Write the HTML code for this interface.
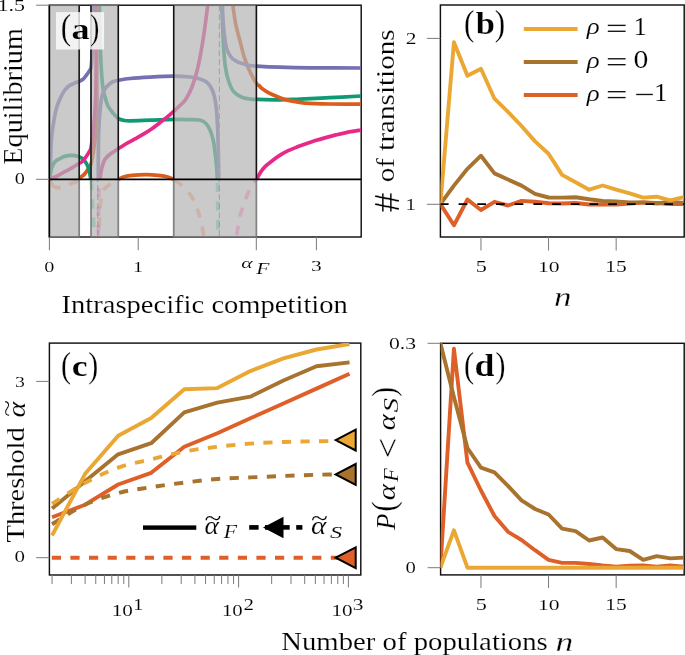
<!DOCTYPE html>
<html><head><meta charset="utf-8"><style>
html,body{margin:0;padding:0;background:#fff;}
svg{display:block;}
text{font-family:"Liberation Serif",serif;}
</style></head><body>
<svg width="685" height="655" viewBox="0 0 685 655">
<rect width="685" height="655" fill="#fff"/>
<defs><clipPath id="cpa"><rect x="49.4" y="5.2" width="311.8" height="231.8"/></clipPath></defs><rect x="49.4" y="5.2" width="311.8" height="231.8" fill="none" stroke="#111" stroke-width="1.45"/><g clip-path="url(#cpa)"><path d="M99.30,3.00 C99.38,7.50 99.55,20.50 99.80,30.00 C100.05,39.50 100.32,50.62 100.80,60.00 C101.28,69.38 102.00,80.13 102.70,86.30 C103.40,92.47 104.12,93.72 105.00,97.00 C105.88,100.28 106.67,103.33 108.00,106.00 C109.33,108.67 111.28,110.92 113.00,113.00 C114.72,115.08 116.47,117.27 118.30,118.50 C120.13,119.73 122.05,120.02 124.00,120.40 C125.95,120.78 125.67,120.83 130.00,120.80 C134.33,120.77 142.72,120.43 150.00,120.20 C157.28,119.97 167.03,119.50 173.70,119.40 C180.37,119.30 185.70,119.50 190.00,119.60 C194.30,119.70 196.92,119.43 199.50,120.00 C202.08,120.57 203.75,121.33 205.50,123.00 C207.25,124.67 208.72,127.17 210.00,130.00 C211.28,132.83 212.30,135.83 213.20,140.00 C214.10,144.17 214.80,150.00 215.40,155.00 C216.00,160.00 216.47,165.95 216.80,170.00 C217.13,174.05 217.30,177.75 217.40,179.30" fill="none" stroke="#0e9b74" stroke-width="3.7"/><path d="M221.80,3.00 C221.93,6.67 222.27,17.17 222.60,25.00 C222.93,32.83 223.33,42.98 223.80,50.00 C224.27,57.02 224.63,62.02 225.40,67.10 C226.17,72.18 227.05,76.45 228.40,80.50 C229.75,84.55 231.27,88.60 233.50,91.40 C235.73,94.20 239.02,96.03 241.80,97.30 C244.58,98.57 247.77,98.65 250.20,99.00 C252.63,99.35 251.43,99.25 256.40,99.40 C261.37,99.55 272.73,99.95 280.00,99.90 C287.27,99.85 291.67,99.47 300.00,99.10 C308.33,98.73 319.80,98.22 330.00,97.70 C340.20,97.18 356.00,96.28 361.20,96.00" fill="none" stroke="#0e9b74" stroke-width="3.7"/><path d="M79.20,179.30 C79.42,178.97 79.65,178.12 80.50,177.30 C81.35,176.48 83.10,175.65 84.30,174.40 C85.50,173.15 86.77,171.22 87.70,169.80 C88.63,168.38 89.32,166.95 89.90,165.90 C90.48,164.85 90.77,164.98 91.20,163.50 C91.63,162.02 92.07,159.42 92.50,157.00 C92.93,154.58 93.33,152.33 93.80,149.00 C94.27,145.67 94.87,141.50 95.30,137.00 C95.73,132.50 96.15,127.33 96.40,122.00 C96.65,116.67 96.75,112.00 96.80,105.00 C96.85,98.00 96.75,90.83 96.70,80.00 C96.65,69.17 96.55,52.83 96.50,40.00 C96.45,27.17 96.42,9.17 96.40,3.00" fill="none" stroke="#dc5c1c" stroke-width="3.7"/><path d="M118.30,179.30 C119.42,178.82 122.72,177.07 125.00,176.40 C127.28,175.73 128.50,175.58 132.00,175.30 C135.50,175.02 141.67,174.70 146.00,174.70 C150.33,174.70 154.67,175.00 158.00,175.30 C161.33,175.60 163.38,175.83 166.00,176.50 C168.62,177.17 172.42,178.83 173.70,179.30" fill="none" stroke="#dc5c1c" stroke-width="3.7"/><path d="M232.60,3.00 C232.80,4.50 233.25,8.30 233.80,12.00 C234.35,15.70 234.83,20.22 235.90,25.20 C236.97,30.18 238.73,36.32 240.20,41.90 C241.67,47.48 243.03,53.67 244.70,58.70 C246.37,63.73 248.25,67.97 250.20,72.10 C252.15,76.23 254.90,81.23 256.40,83.50 C257.90,85.77 258.27,84.87 259.20,85.70 C260.13,86.53 260.48,87.35 262.00,88.50 C263.52,89.65 265.72,91.23 268.30,92.60 C270.88,93.97 274.45,95.48 277.50,96.70 C280.55,97.92 283.55,99.07 286.60,99.90 C289.65,100.73 292.73,101.17 295.80,101.70 C298.87,102.23 299.30,102.72 305.00,103.10 C310.70,103.48 320.63,103.82 330.00,104.00 C339.37,104.18 356.00,104.17 361.20,104.20" fill="none" stroke="#dc5c1c" stroke-width="3.7"/><path d="M49.70,179.30 C49.80,178.50 50.13,178.48 50.30,174.50 C50.47,170.52 50.47,161.75 50.70,155.40 C50.93,149.05 51.07,142.77 51.70,136.40 C52.33,130.03 53.62,122.18 54.50,117.20 C55.38,112.22 56.03,109.67 57.00,106.50 C57.97,103.33 59.17,100.70 60.30,98.20 C61.43,95.70 62.53,93.42 63.80,91.50 C65.07,89.58 66.27,88.02 67.90,86.70 C69.53,85.38 71.85,84.43 73.60,83.60 C75.35,82.77 76.80,82.45 78.40,81.70 C80.00,80.95 81.77,80.33 83.20,79.10 C84.63,77.87 85.73,76.05 87.00,74.30 C88.27,72.55 90.05,70.32 90.80,68.60 C91.55,66.88 91.32,65.77 91.50,64.00 C91.68,62.23 91.77,61.17 91.90,58.00 C92.03,54.83 92.17,49.67 92.30,45.00 C92.43,40.33 92.57,35.00 92.70,30.00 C92.83,25.00 93.00,19.50 93.10,15.00 C93.20,10.50 93.27,5.00 93.30,3.00" fill="none" stroke="#7570b3" stroke-width="3.7"/><path d="M98.30,179.30 C98.30,176.08 98.27,166.55 98.30,160.00 C98.33,153.45 98.38,145.83 98.50,140.00 C98.62,134.17 98.73,130.00 99.00,125.00 C99.27,120.00 99.67,114.50 100.10,110.00 C100.53,105.50 101.03,101.08 101.60,98.00 C102.17,94.92 102.77,93.25 103.50,91.50 C104.23,89.75 104.92,88.83 106.00,87.50 C107.08,86.17 108.67,84.53 110.00,83.50 C111.33,82.47 112.62,81.83 114.00,81.30 C115.38,80.77 115.63,80.77 118.30,80.30 C120.97,79.83 124.72,79.03 130.00,78.50 C135.28,77.97 142.72,77.48 150.00,77.10 C157.28,76.72 167.03,76.22 173.70,76.20 C180.37,76.18 185.62,76.53 190.00,77.00 C194.38,77.47 197.25,78.17 200.00,79.00 C202.75,79.83 204.67,80.58 206.50,82.00 C208.33,83.42 209.70,85.17 211.00,87.50 C212.30,89.83 213.38,92.25 214.30,96.00 C215.22,99.75 215.93,104.33 216.50,110.00 C217.07,115.67 217.38,122.50 217.70,130.00 C218.02,137.50 218.22,146.78 218.40,155.00 C218.58,163.22 218.73,175.25 218.80,179.30" fill="none" stroke="#7570b3" stroke-width="3.7"/><path d="M222.30,3.00 C222.40,5.50 222.58,12.90 222.90,18.00 C223.22,23.10 223.57,28.48 224.20,33.60 C224.83,38.72 225.43,44.65 226.70,48.70 C227.97,52.75 229.55,55.53 231.80,57.90 C234.05,60.27 237.40,61.67 240.20,62.90 C243.00,64.13 245.90,64.77 248.60,65.30 C251.30,65.83 251.17,65.78 256.40,66.10 C261.63,66.42 271.07,66.92 280.00,67.20 C288.93,67.48 296.47,67.67 310.00,67.80 C323.53,67.93 352.67,67.97 361.20,68.00" fill="none" stroke="#7570b3" stroke-width="3.7"/><path d="M49.80,179.30 C49.92,178.17 50.18,174.38 50.50,172.50 C50.82,170.62 51.20,169.45 51.70,168.00 C52.20,166.55 52.70,165.05 53.50,163.80 C54.30,162.55 55.42,161.37 56.50,160.50 C57.58,159.63 58.73,159.25 60.00,158.60 C61.27,157.95 62.77,157.10 64.10,156.60 C65.43,156.10 66.80,155.82 68.00,155.60 C69.20,155.38 70.13,155.30 71.30,155.30 C72.47,155.30 73.78,155.38 75.00,155.60 C76.22,155.82 77.33,156.10 78.60,156.60 C79.87,157.10 81.28,157.43 82.60,158.60 C83.92,159.77 85.47,161.82 86.50,163.60 C87.53,165.38 88.18,167.23 88.80,169.30 C89.42,171.37 89.88,174.33 90.20,176.00 C90.52,177.67 90.62,178.75 90.70,179.30" fill="none" stroke="#0e9b74" stroke-width="3.7"/><path d="M49.40,179.30 C50.33,178.92 53.23,177.82 55.00,177.00 C56.77,176.18 58.50,175.22 60.00,174.40 C61.50,173.58 62.58,172.87 64.00,172.10 C65.42,171.33 66.92,170.68 68.50,169.80 C70.08,168.92 71.82,167.83 73.50,166.80 C75.18,165.77 77.08,164.52 78.60,163.60 C80.12,162.68 81.18,162.70 82.60,161.30 C84.02,159.90 85.88,156.98 87.10,155.20 C88.32,153.42 89.25,151.83 89.90,150.60 C90.55,149.37 90.52,150.57 91.00,147.80 C91.48,145.03 92.18,139.57 92.80,134.00 C93.42,128.43 94.20,120.90 94.70,114.40 C95.20,107.90 95.53,104.07 95.80,95.00 C96.07,85.93 96.20,75.33 96.30,60.00 C96.40,44.67 96.38,12.50 96.40,3.00" fill="none" stroke="#e7298a" stroke-width="3.7"/><path d="M100.00,179.30 C100.07,178.75 100.20,177.38 100.40,176.00 C100.60,174.62 100.88,172.58 101.20,171.00 C101.52,169.42 101.72,168.37 102.30,166.50 C102.88,164.63 103.58,161.72 104.70,159.80 C105.82,157.88 107.55,156.30 109.00,155.00 C110.45,153.70 111.85,153.05 113.40,152.00 C114.95,150.95 116.83,149.67 118.30,148.70 C119.77,147.73 120.83,147.07 122.20,146.20 C123.57,145.33 124.38,144.72 126.50,143.50 C128.62,142.28 132.08,140.47 134.90,138.90 C137.72,137.33 140.57,135.80 143.40,134.10 C146.23,132.40 149.08,130.65 151.90,128.70 C154.72,126.75 157.48,124.58 160.30,122.40 C163.12,120.22 166.57,117.45 168.80,115.60 C171.03,113.75 171.83,112.98 173.70,111.30 C175.57,109.62 177.95,107.55 180.00,105.50 C182.05,103.45 184.00,102.08 186.00,99.00 C188.00,95.92 190.17,91.67 192.00,87.00 C193.83,82.33 195.50,76.83 197.00,71.00 C198.50,65.17 199.75,58.83 201.00,52.00 C202.25,45.17 203.33,38.17 204.50,30.00 C205.67,21.83 207.42,7.50 208.00,3.00" fill="none" stroke="#e7298a" stroke-width="3.7"/><path d="M256.40,179.30 C256.60,178.97 256.75,178.70 257.60,177.30 C258.45,175.90 260.22,172.73 261.50,170.90 C262.78,169.07 263.40,168.08 265.30,166.30 C267.20,164.52 270.37,162.10 272.90,160.20 C275.43,158.30 277.95,156.48 280.50,154.90 C283.05,153.32 285.70,151.92 288.20,150.70 C290.70,149.48 292.67,148.70 295.50,147.60 C298.33,146.50 301.88,145.27 305.20,144.10 C308.52,142.93 311.98,141.68 315.40,140.60 C318.82,139.52 322.28,138.55 325.70,137.60 C329.12,136.65 332.50,135.73 335.90,134.90 C339.30,134.07 341.88,133.42 346.10,132.60 C350.32,131.78 358.68,130.43 361.20,130.00" fill="none" stroke="#e7298a" stroke-width="3.7"/><line x1="97.8" y1="5.2" x2="97.8" y2="237.0" stroke="#888" stroke-width="1.2" stroke-dasharray="6 3"/><line x1="219.4" y1="5.2" x2="219.4" y2="237.0" stroke="#888" stroke-width="1.2" stroke-dasharray="6 3"/></g><rect x="49.4" y="5.2" width="29.800000000000004" height="231.8" fill="#b4b4b4" fill-opacity="0.70" stroke="#6e6e6e" stroke-width="1.7" stroke-opacity="0.85"/><rect x="91.0" y="5.2" width="27.299999999999997" height="231.8" fill="#b4b4b4" fill-opacity="0.70" stroke="#6e6e6e" stroke-width="1.7" stroke-opacity="0.85"/><rect x="173.7" y="5.2" width="82.69999999999999" height="231.8" fill="#b4b4b4" fill-opacity="0.70" stroke="#6e6e6e" stroke-width="1.7" stroke-opacity="0.85"/><g clip-path="url(#cpa)"><path d="M90.60,179.30 C90.78,181.08 91.37,185.72 91.70,190.00 C92.03,194.28 92.30,200.00 92.60,205.00 C92.90,210.00 93.20,214.17 93.50,220.00 C93.80,225.83 94.25,236.67 94.40,240.00" fill="none" stroke="#0e9b74" stroke-width="3.7" stroke-opacity="0.2" stroke-dasharray="9.5 9" stroke-dashoffset="17.1"/><path d="M217.40,179.30 C217.45,181.92 217.62,184.88 217.70,195.00 C217.78,205.12 217.87,232.50 217.90,240.00" fill="none" stroke="#0e9b74" stroke-width="3.7" stroke-opacity="0.2" stroke-dasharray="9.5 9" stroke-dashoffset="15"/><path d="M49.40,179.30 C49.55,179.58 49.95,180.30 50.30,181.00 C50.65,181.70 51.05,182.72 51.50,183.50 C51.95,184.28 52.42,185.12 53.00,185.70 C53.58,186.28 54.17,186.68 55.00,187.00 C55.83,187.32 56.87,187.57 58.00,187.60 C59.13,187.63 60.47,187.53 61.80,187.20 C63.13,186.87 64.60,186.18 66.00,185.60 C67.40,185.02 68.87,184.22 70.20,183.70 C71.53,183.18 72.75,182.92 74.00,182.50 C75.25,182.08 76.83,181.73 77.70,181.20 C78.57,180.67 78.95,179.62 79.20,179.30" fill="none" stroke="#dc5c1c" stroke-width="3.7" stroke-opacity="0.2" stroke-dasharray="15.5 8.5 9.5 9" stroke-dashoffset="0"/><path d="M118.30,179.30 C117.58,179.63 115.37,180.53 114.00,181.30 C112.63,182.07 111.35,182.98 110.10,183.90 C108.85,184.82 107.65,185.73 106.50,186.80 C105.35,187.87 104.02,188.93 103.20,190.30 C102.38,191.67 101.97,193.38 101.60,195.00 C101.23,196.62 101.27,197.75 101.00,200.00 C100.73,202.25 100.27,205.00 100.00,208.50 C99.73,212.00 99.58,217.42 99.40,221.00 C99.22,224.58 99.02,226.83 98.90,230.00 C98.78,233.17 98.73,238.33 98.70,240.00" fill="none" stroke="#dc5c1c" stroke-width="3.7" stroke-opacity="0.2" stroke-dasharray="9.5 9" stroke-dashoffset="9.5"/><path d="M173.70,179.30 C174.42,179.82 176.28,181.03 178.00,182.40 C179.72,183.77 181.92,185.40 184.00,187.50 C186.08,189.60 188.67,192.42 190.50,195.00 C192.33,197.58 193.70,200.17 195.00,203.00 C196.30,205.83 197.33,209.00 198.30,212.00 C199.27,215.00 200.07,218.08 200.80,221.00 C201.53,223.92 202.17,226.33 202.70,229.50 C203.23,232.67 203.78,238.25 204.00,240.00" fill="none" stroke="#dc5c1c" stroke-width="3.7" stroke-opacity="0.2" stroke-dasharray="9.5 9" stroke-dashoffset="17.2"/><path d="M100.00,179.30 C99.88,179.92 99.48,181.22 99.30,183.00 C99.12,184.78 99.00,187.17 98.90,190.00 C98.80,192.83 98.77,195.83 98.70,200.00 C98.63,204.17 98.55,208.33 98.50,215.00 C98.45,221.67 98.42,235.83 98.40,240.00" fill="none" stroke="#e7298a" stroke-width="3.7" stroke-opacity="0.2" stroke-dasharray="9.5 9" stroke-dashoffset="9.5"/><path d="M256.40,179.30 C255.92,179.92 254.57,181.38 253.50,183.00 C252.43,184.62 251.25,186.50 250.00,189.00 C248.75,191.50 247.25,194.83 246.00,198.00 C244.75,201.17 243.58,204.67 242.50,208.00 C241.42,211.33 240.33,214.33 239.50,218.00 C238.67,221.67 238.08,226.33 237.50,230.00 C236.92,233.67 236.25,238.33 236.00,240.00" fill="none" stroke="#e7298a" stroke-width="3.7" stroke-opacity="0.2" stroke-dasharray="9.5 9" stroke-dashoffset="5.2"/></g><line x1="79.2" y1="5.2" x2="79.2" y2="179.3" stroke="#000" stroke-opacity="0.85" stroke-width="1.4"/><line x1="91.0" y1="5.2" x2="91.0" y2="179.3" stroke="#000" stroke-opacity="0.85" stroke-width="1.4"/><line x1="118.3" y1="5.2" x2="118.3" y2="179.3" stroke="#000" stroke-opacity="0.85" stroke-width="1.4"/><line x1="173.7" y1="5.2" x2="173.7" y2="179.3" stroke="#000" stroke-opacity="0.85" stroke-width="1.4"/><line x1="256.4" y1="5.2" x2="256.4" y2="179.3" stroke="#000" stroke-opacity="0.85" stroke-width="1.4"/><line x1="49.4" y1="179.3" x2="361.2" y2="179.3" stroke="#000" stroke-width="1.8"/><line x1="49.4" y1="5.2" x2="49.4" y2="237.0" stroke="#000" stroke-width="1.3"/><rect x="56" y="12.1" width="48.1" height="37.4" fill="#fff" fill-opacity="0.78"/><line x1="36.1" y1="5.2" x2="49.4" y2="5.2" stroke="#7a7a7a" stroke-width="1"/><line x1="36.1" y1="179.3" x2="49.4" y2="179.3" stroke="#7a7a7a" stroke-width="1"/><line x1="49.4" y1="237.0" x2="49.4" y2="250.2" stroke="#7a7a7a" stroke-width="1"/><line x1="138.2" y1="237.0" x2="138.2" y2="250.2" stroke="#7a7a7a" stroke-width="1"/><line x1="256.3" y1="237.0" x2="256.3" y2="250.2" stroke="#7a7a7a" stroke-width="1"/><line x1="316.4" y1="237.0" x2="316.4" y2="250.2" stroke="#7a7a7a" stroke-width="1"/><rect x="440.4" y="5.0" width="243.80000000000007" height="232.0" fill="none" stroke="#111" stroke-width="1.45"/><defs><clipPath id="cpb"><rect x="440.4" y="5.0" width="243.80000000000007" height="232.0"/></clipPath></defs><g clip-path="url(#cpb)"><path d="M440.40,204.00 L453.92,225.30 L467.44,199.50 L480.96,210.00 L494.48,201.80 L508.00,205.50 L521.52,200.90 L535.04,201.80 L548.56,203.20 L562.08,203.50 L575.60,203.00 L589.12,204.50 L602.64,204.50 L616.16,204.50 L629.68,203.50 L643.20,202.50 L656.72,203.00 L670.24,204.00 L683.76,204.00" fill="none" stroke="#df5f29" stroke-width="3.9" stroke-linejoin="round"/><path d="M440.40,204.00 L453.92,185.60 L467.44,168.80 L480.96,155.70 L494.48,173.40 L508.00,179.50 L521.52,185.60 L535.04,193.90 L548.56,197.50 L562.08,197.60 L575.60,197.20 L589.12,199.30 L602.64,201.00 L616.16,201.40 L629.68,202.40 L643.20,202.40 L656.72,203.50 L670.24,201.80 L683.76,202.90" fill="none" stroke="#a8732f" stroke-width="3.9" stroke-linejoin="round"/><path d="M440.40,204.00 L453.92,42.30 L467.44,75.80 L480.96,68.80 L494.48,98.70 L508.00,111.80 L521.52,126.00 L535.04,141.40 L548.56,153.70 L562.08,174.90 L575.60,182.30 L589.12,189.70 L602.64,185.50 L616.16,189.70 L629.68,193.30 L643.20,197.60 L656.72,196.70 L670.24,200.30 L683.76,197.20" fill="none" stroke="#eba733" stroke-width="3.9" stroke-linejoin="round"/><line x1="440.4" y1="204.2" x2="684.2" y2="204.2" stroke="#000" stroke-width="1.8" stroke-dasharray="8.7 10" stroke-dashoffset="0.5"/></g><line x1="523.8" y1="29.0" x2="577.6" y2="29.0" stroke="#eba733" stroke-width="3.9"/><line x1="523.8" y1="62.0" x2="577.6" y2="62.0" stroke="#a8732f" stroke-width="3.9"/><line x1="523.8" y1="95.0" x2="577.6" y2="95.0" stroke="#df5f29" stroke-width="3.9"/><line x1="426.9" y1="38.4" x2="440.4" y2="38.4" stroke="#7a7a7a" stroke-width="1"/><line x1="426.9" y1="204.3" x2="440.4" y2="204.3" stroke="#7a7a7a" stroke-width="1"/><line x1="480.96" y1="237.0" x2="480.96" y2="250.5" stroke="#7a7a7a" stroke-width="1"/><line x1="548.56" y1="237.0" x2="548.56" y2="250.5" stroke="#7a7a7a" stroke-width="1"/><line x1="616.16" y1="237.0" x2="616.16" y2="250.5" stroke="#7a7a7a" stroke-width="1"/><rect x="607.8" y="24.70" width="17.8" height="1.35" fill="#111"/><rect x="607.8" y="30.60" width="17.8" height="1.35" fill="#111"/><rect x="607.8" y="58.10" width="17.8" height="1.35" fill="#111"/><rect x="607.8" y="64.00" width="17.8" height="1.35" fill="#111"/><rect x="607.8" y="91.00" width="17.8" height="1.35" fill="#111"/><rect x="607.8" y="96.90" width="17.8" height="1.35" fill="#111"/><rect x="636.2" y="93.8" width="16.6" height="1.35" fill="#111"/><rect x="49.4" y="343.1" width="311.40000000000003" height="231.89999999999998" fill="none" stroke="#111" stroke-width="1.45"/><defs><clipPath id="cpc"><rect x="49.4" y="343.1" width="311.40000000000003" height="231.89999999999998"/></clipPath></defs><g clip-path="url(#cpc)"><path d="M52.05,517.30 L85.11,504.70 L118.16,484.50 L151.21,472.80 L184.27,446.80 L217.32,433.20 L250.37,418.30 L283.42,403.50 L316.48,388.60 L349.53,373.80" fill="none" stroke="#df5f29" stroke-width="3.9" stroke-linejoin="round"/><path d="M51.80,557.70 L349.90,557.70" fill="none" stroke="#df5f29" stroke-width="3.9" stroke-dasharray="9.2 9.4"/><path d="M52.05,508.50 L85.11,481.20 L118.16,454.30 L151.21,443.20 L184.27,412.40 L217.32,402.70 L250.37,396.70 L283.42,380.50 L316.48,366.20 L349.53,362.40" fill="none" stroke="#a8732f" stroke-width="3.9" stroke-linejoin="round"/><path d="M52.05,524.20 C57.56,520.95 74.09,509.90 85.11,504.70 C96.12,499.50 107.14,495.92 118.16,493.00 C129.18,490.08 140.19,488.93 151.21,487.20 C162.23,485.47 173.25,483.97 184.27,482.60 C195.28,481.23 206.30,479.87 217.32,479.00 C228.34,478.13 239.35,477.90 250.37,477.40 C261.39,476.90 272.41,476.43 283.42,476.00 C294.44,475.57 305.40,475.10 316.48,474.80 C327.56,474.50 344.33,474.30 349.90,474.20" fill="none" stroke="#a8732f" stroke-width="3.9" stroke-dasharray="9.2 9.4"/><path d="M52.05,535.50 L85.11,473.80 L118.16,435.80 L151.21,418.00 L184.27,389.20 L217.32,388.10 L250.37,371.10 L283.42,358.40 L316.48,349.50 L349.53,344.00" fill="none" stroke="#eba733" stroke-width="3.9" stroke-linejoin="round"/><path d="M52.05,503.80 C57.56,500.32 74.09,488.92 85.11,482.90 C96.12,476.88 107.14,471.63 118.16,467.70 C129.18,463.77 140.19,462.00 151.21,459.30 C162.23,456.60 173.25,453.58 184.27,451.50 C195.28,449.42 206.30,448.12 217.32,446.80 C228.34,445.48 239.35,444.40 250.37,443.60 C261.39,442.80 272.41,442.38 283.42,442.00 C294.44,441.62 305.40,441.47 316.48,441.30 C327.56,441.13 344.33,441.05 349.90,441.00" fill="none" stroke="#eba733" stroke-width="3.9" stroke-dasharray="9.2 9.4"/></g><path d="M335.7,440.1 L355.7,429.70000000000005 L355.7,450.5 Z" fill="#eba733" stroke="#000" stroke-width="2.0" stroke-linejoin="miter" stroke-miterlimit="30"/><path d="M335.7,474.4 L355.7,464.0 L355.7,484.79999999999995 Z" fill="#a8732f" stroke="#000" stroke-width="2.0" stroke-linejoin="miter" stroke-miterlimit="30"/><path d="M335.7,557.7 L355.7,547.3000000000001 L355.7,568.1 Z" fill="#df5f29" stroke="#000" stroke-width="2.0" stroke-linejoin="miter" stroke-miterlimit="30"/><rect x="143.0" y="525.4" width="53.3" height="4.4" fill="#000"/><rect x="249.2" y="525.1" width="9.40" height="4.6" fill="#000"/><rect x="265" y="525.1" width="24.70" height="4.6" fill="#000"/><rect x="296.2" y="525.1" width="6.20" height="4.6" fill="#000"/><path d="M263.0,527.4 L283.5,516.8 L283.5,538.2 Z" fill="#000"/><line x1="36.2" y1="381.4" x2="49.4" y2="381.4" stroke="#7a7a7a" stroke-width="1"/><line x1="36.2" y1="557.7" x2="49.4" y2="557.7" stroke="#7a7a7a" stroke-width="1"/><line x1="52.05" y1="575.0" x2="52.05" y2="584.0" stroke="#7a7a7a" stroke-width="1"/><line x1="71.39" y1="575.0" x2="71.39" y2="584.0" stroke="#7a7a7a" stroke-width="1"/><line x1="85.11" y1="575.0" x2="85.11" y2="584.0" stroke="#7a7a7a" stroke-width="1"/><line x1="95.75" y1="575.0" x2="95.75" y2="584.0" stroke="#7a7a7a" stroke-width="1"/><line x1="104.44" y1="575.0" x2="104.44" y2="584.0" stroke="#7a7a7a" stroke-width="1"/><line x1="111.79" y1="575.0" x2="111.79" y2="584.0" stroke="#7a7a7a" stroke-width="1"/><line x1="118.16" y1="575.0" x2="118.16" y2="584.0" stroke="#7a7a7a" stroke-width="1"/><line x1="123.78" y1="575.0" x2="123.78" y2="584.0" stroke="#7a7a7a" stroke-width="1"/><line x1="128.80" y1="575.0" x2="128.80" y2="587.5" stroke="#7a7a7a" stroke-width="1"/><line x1="161.85" y1="575.0" x2="161.85" y2="584.0" stroke="#7a7a7a" stroke-width="1"/><line x1="181.19" y1="575.0" x2="181.19" y2="584.0" stroke="#7a7a7a" stroke-width="1"/><line x1="194.91" y1="575.0" x2="194.91" y2="584.0" stroke="#7a7a7a" stroke-width="1"/><line x1="205.55" y1="575.0" x2="205.55" y2="584.0" stroke="#7a7a7a" stroke-width="1"/><line x1="214.24" y1="575.0" x2="214.24" y2="584.0" stroke="#7a7a7a" stroke-width="1"/><line x1="221.59" y1="575.0" x2="221.59" y2="584.0" stroke="#7a7a7a" stroke-width="1"/><line x1="227.96" y1="575.0" x2="227.96" y2="584.0" stroke="#7a7a7a" stroke-width="1"/><line x1="233.58" y1="575.0" x2="233.58" y2="584.0" stroke="#7a7a7a" stroke-width="1"/><line x1="238.60" y1="575.0" x2="238.60" y2="587.5" stroke="#7a7a7a" stroke-width="1"/><line x1="271.65" y1="575.0" x2="271.65" y2="584.0" stroke="#7a7a7a" stroke-width="1"/><line x1="290.99" y1="575.0" x2="290.99" y2="584.0" stroke="#7a7a7a" stroke-width="1"/><line x1="304.71" y1="575.0" x2="304.71" y2="584.0" stroke="#7a7a7a" stroke-width="1"/><line x1="315.35" y1="575.0" x2="315.35" y2="584.0" stroke="#7a7a7a" stroke-width="1"/><line x1="324.04" y1="575.0" x2="324.04" y2="584.0" stroke="#7a7a7a" stroke-width="1"/><line x1="331.39" y1="575.0" x2="331.39" y2="584.0" stroke="#7a7a7a" stroke-width="1"/><line x1="337.76" y1="575.0" x2="337.76" y2="584.0" stroke="#7a7a7a" stroke-width="1"/><line x1="343.38" y1="575.0" x2="343.38" y2="584.0" stroke="#7a7a7a" stroke-width="1"/><line x1="348.40" y1="575.0" x2="348.40" y2="587.5" stroke="#7a7a7a" stroke-width="1"/><rect x="440.6" y="343.3" width="243.60000000000002" height="231.59999999999997" fill="none" stroke="#111" stroke-width="1.45"/><defs><clipPath id="cpd"><rect x="440.6" y="341.3" width="243.60000000000002" height="233.59999999999997"/></clipPath></defs><g clip-path="url(#cpd)"><path d="M440.40,567.70 L453.92,348.70 L467.44,462.70 L480.96,490.50 L494.48,516.00 L508.00,531.80 L521.52,540.00 L535.04,550.20 L548.56,559.90 L562.08,562.90 L575.60,562.90 L589.12,564.00 L602.64,565.50 L616.16,566.60 L629.68,565.80 L643.20,565.50 L656.72,566.60 L670.24,565.50 L683.76,566.60" fill="none" stroke="#df5f29" stroke-width="3.9" stroke-linejoin="round"/><path d="M440.40,343.30 L453.92,397.00 L467.44,448.00 L480.96,467.70 L494.48,472.30 L508.00,485.90 L521.52,500.30 L535.04,509.00 L548.56,514.50 L562.08,528.60 L575.60,531.20 L589.12,540.50 L602.64,537.50 L616.16,549.10 L629.68,551.00 L643.20,559.90 L656.72,556.20 L670.24,558.40 L683.76,557.60" fill="none" stroke="#a8732f" stroke-width="3.9" stroke-linejoin="round"/><path d="M440.40,567.70 L453.92,530.30 L467.44,567.70 L480.96,567.70 L494.48,567.70 L508.00,567.70 L521.52,567.70 L535.04,567.70 L548.56,567.70 L562.08,567.70 L575.60,567.70 L589.12,567.70 L602.64,567.70 L616.16,567.70 L629.68,567.70 L643.20,567.70 L656.72,567.70 L670.24,567.70 L683.76,567.70" fill="none" stroke="#eba733" stroke-width="3.9" stroke-linejoin="round"/></g><line x1="427.6" y1="343.3" x2="440.6" y2="343.3" stroke="#7a7a7a" stroke-width="1"/><line x1="427.6" y1="567.7" x2="440.6" y2="567.7" stroke="#7a7a7a" stroke-width="1"/><line x1="480.96" y1="574.9" x2="480.96" y2="588" stroke="#7a7a7a" stroke-width="1"/><line x1="548.56" y1="574.9" x2="548.56" y2="588" stroke="#7a7a7a" stroke-width="1"/><line x1="616.16" y1="574.9" x2="616.16" y2="588" stroke="#7a7a7a" stroke-width="1"/>
<g style="opacity:0.999">
<text transform="matrix(0.31154 0.00000 0.00000 0.35333 60.65385 39.28000)" font-size="100" font-family="Liberation Serif" font-style="normal" font-weight="normal" fill="#000" stroke="#fff" stroke-width="0.6" xml:space="preserve">(</text>
<text transform="matrix(0.36222 0.00000 0.00000 0.30417 71.51333 38.69583)" font-size="100" font-family="Liberation Serif" font-style="normal" font-weight="bold" fill="#000" stroke="#fff" stroke-width="0.6" xml:space="preserve">a</text>
<text transform="matrix(0.28077 0.00000 0.00000 0.35333 89.95769 39.28000)" font-size="100" font-family="Liberation Serif" font-style="normal" font-weight="normal" fill="#000" stroke="#fff" stroke-width="0.6" xml:space="preserve">)</text>
<text transform="matrix(0.21964 0.00000 0.00000 0.16061 -2.47679 10.90000)" font-size="100" font-family="Liberation Serif" font-style="normal" font-weight="normal" fill="#000" stroke="#fff" stroke-width="0.6" xml:space="preserve">1.5</text>
<text transform="matrix(0.20238 0.00000 0.00000 0.16269 14.79048 184.37463)" font-size="100" font-family="Liberation Serif" font-style="normal" font-weight="normal" fill="#000" stroke="#fff" stroke-width="0.6" xml:space="preserve">0</text>
<text transform="matrix(0.20238 0.00000 0.00000 0.15075 44.29048 271.59851)" font-size="100" font-family="Liberation Serif" font-style="normal" font-weight="normal" fill="#000" stroke="#fff" stroke-width="0.6" xml:space="preserve">0</text>
<text transform="matrix(0.20000 0.00000 0.00000 0.15000 133.10000 271.70000)" font-size="100" font-family="Liberation Serif" font-style="normal" font-weight="normal" fill="#000" stroke="#fff" stroke-width="0.6" xml:space="preserve">1</text>
<text transform="matrix(0.21569 0.00000 0.00000 0.15208 241.35294 268.34792)" font-size="100" font-family="Liberation Serif" font-style="italic" font-weight="normal" fill="#000" stroke="#fff" stroke-width="0.6" xml:space="preserve">α</text>
<text transform="matrix(0.21613 0.00000 0.00000 0.17385 256.30000 273.90000)" font-size="100" font-family="Liberation Serif" font-style="italic" font-weight="normal" fill="#000" stroke="#fff" stroke-width="0.6" xml:space="preserve">F</text>
<text transform="matrix(0.21463 0.00000 0.00000 0.15455 310.92683 271.24545)" font-size="100" font-family="Liberation Serif" font-style="normal" font-weight="normal" fill="#000" stroke="#fff" stroke-width="0.6" xml:space="preserve">3</text>
<text transform="matrix(0.28586 0.00000 0.00000 0.25070 61.45657 312.60000)" font-size="100" font-family="Liberation Serif" font-style="normal" font-weight="normal" fill="#000" stroke="#fff" stroke-width="0.6" xml:space="preserve">Intraspecific competition</text>
<text transform="matrix(0.00000 -0.28267 0.26522 0.00000 22.10000 164.64802)" font-size="100" font-family="Liberation Serif" font-style="normal" font-weight="normal" fill="#000" stroke="#fff" stroke-width="0.6" xml:space="preserve">Equilibrium</text>
<text transform="matrix(0.31154 0.00000 0.00000 0.35333 464.05385 34.68000)" font-size="100" font-family="Liberation Serif" font-style="normal" font-weight="normal" fill="#000" stroke="#fff" stroke-width="0.6" xml:space="preserve">(</text>
<text transform="matrix(0.34510 0.00000 0.00000 0.31143 475.65490 34.08857)" font-size="100" font-family="Liberation Serif" font-style="normal" font-weight="bold" fill="#000" stroke="#fff" stroke-width="0.6" xml:space="preserve">b</text>
<text transform="matrix(0.31154 0.00000 0.00000 0.35333 494.86538 34.68000)" font-size="100" font-family="Liberation Serif" font-style="normal" font-weight="normal" fill="#000" stroke="#fff" stroke-width="0.6" xml:space="preserve">)</text>
<text transform="matrix(0.21500 0.00000 0.00000 0.16923 405.84000 43.90000)" font-size="100" font-family="Liberation Serif" font-style="normal" font-weight="normal" fill="#000" stroke="#fff" stroke-width="0.6" xml:space="preserve">2</text>
<text transform="matrix(0.20857 0.00000 0.00000 0.16061 405.52286 209.50000)" font-size="100" font-family="Liberation Serif" font-style="normal" font-weight="normal" fill="#000" stroke="#fff" stroke-width="0.6" xml:space="preserve">1</text>
<text transform="matrix(0.22250 0.00000 0.00000 0.15909 475.66500 272.04091)" font-size="100" font-family="Liberation Serif" font-style="normal" font-weight="normal" fill="#000" stroke="#fff" stroke-width="0.6" xml:space="preserve">5</text>
<text transform="matrix(0.21609 0.00000 0.00000 0.15441 538.05517 271.89118)" font-size="100" font-family="Liberation Serif" font-style="normal" font-weight="normal" fill="#000" stroke="#fff" stroke-width="0.6" xml:space="preserve">10</text>
<text transform="matrix(0.21494 0.00000 0.00000 0.15672 605.36552 272.04328)" font-size="100" font-family="Liberation Serif" font-style="normal" font-weight="normal" fill="#000" stroke="#fff" stroke-width="0.6" xml:space="preserve">15</text>
<text transform="matrix(0.35000 0.00000 0.00000 0.27447 553.90000 306.10000)" font-size="100" font-family="Liberation Serif" font-style="italic" font-weight="normal" fill="#000" stroke="#fff" stroke-width="1.0" xml:space="preserve">n</text>
<text transform="matrix(0.00000 -0.29149 0.25775 0.00000 394.40000 182.26596)" font-size="100" font-family="Liberation Serif" font-style="normal" font-weight="normal" fill="#000" stroke="#fff" stroke-width="0.6" xml:space="preserve">of transitions</text>
<text transform="matrix(0.00000 -0.39783 0.34923 0.00000 399.00000 212.39565)" font-size="100" font-family="Liberation Serif" font-style="normal" font-weight="normal" fill="#000" stroke="#fff" stroke-width="0.6" xml:space="preserve">#</text>
<text transform="matrix(0.27021 0.00000 0.00000 0.23971 586.64043 34.46618)" font-size="100" font-family="Liberation Serif" font-style="italic" font-weight="normal" fill="#000" stroke="#fff" stroke-width="0.6" xml:space="preserve">ρ</text>
<text transform="matrix(0.26857 0.00000 0.00000 0.25000 633.58286 34.60000)" font-size="100" font-family="Liberation Serif" font-style="normal" font-weight="normal" fill="#000" stroke="#fff" stroke-width="0.6" xml:space="preserve">1</text>
<text transform="matrix(0.27021 0.00000 0.00000 0.23971 586.64043 67.86618)" font-size="100" font-family="Liberation Serif" font-style="italic" font-weight="normal" fill="#000" stroke="#fff" stroke-width="0.6" xml:space="preserve">ρ</text>
<text transform="matrix(0.29762 0.00000 0.00000 0.24776 633.60952 67.70448)" font-size="100" font-family="Liberation Serif" font-style="normal" font-weight="normal" fill="#000" stroke="#fff" stroke-width="0.6" xml:space="preserve">0</text>
<text transform="matrix(0.27021 0.00000 0.00000 0.23971 586.64043 100.76618)" font-size="100" font-family="Liberation Serif" font-style="italic" font-weight="normal" fill="#000" stroke="#fff" stroke-width="0.6" xml:space="preserve">ρ</text>
<text transform="matrix(0.27143 0.00000 0.00000 0.25000 654.05714 101.40000)" font-size="100" font-family="Liberation Serif" font-style="normal" font-weight="normal" fill="#000" stroke="#fff" stroke-width="0.6" xml:space="preserve">1</text>
<text transform="matrix(0.30000 0.00000 0.00000 0.35444 61.00000 377.35667)" font-size="100" font-family="Liberation Serif" font-style="normal" font-weight="normal" fill="#000" stroke="#fff" stroke-width="0.6" xml:space="preserve">(</text>
<text transform="matrix(0.35641 0.00000 0.00000 0.30417 71.83077 376.49583)" font-size="100" font-family="Liberation Serif" font-style="normal" font-weight="bold" fill="#000" stroke="#fff" stroke-width="0.6" xml:space="preserve">c</text>
<text transform="matrix(0.30000 0.00000 0.00000 0.35444 88.30000 377.35667)" font-size="100" font-family="Liberation Serif" font-style="normal" font-weight="normal" fill="#000" stroke="#fff" stroke-width="0.6" xml:space="preserve">)</text>
<text transform="matrix(0.19756 0.00000 0.00000 0.13939 15.01220 386.66061)" font-size="100" font-family="Liberation Serif" font-style="normal" font-weight="normal" fill="#000" stroke="#fff" stroke-width="0.6" xml:space="preserve">3</text>
<text transform="matrix(0.20952 0.00000 0.00000 0.15970 14.46190 562.08060)" font-size="100" font-family="Liberation Serif" font-style="normal" font-weight="normal" fill="#000" stroke="#fff" stroke-width="0.6" xml:space="preserve">0</text>
<text transform="matrix(0.21149 0.00000 0.00000 0.16765 111.69655 615.96471)" font-size="100" font-family="Liberation Serif" font-style="normal" font-weight="normal" fill="#000" stroke="#fff" stroke-width="0.6" xml:space="preserve">10</text>
<text transform="matrix(0.20000 0.00000 0.00000 0.16970 133.20000 610.00000)" font-size="100" font-family="Liberation Serif" font-style="normal" font-weight="normal" fill="#000" stroke="#fff" stroke-width="0.6" xml:space="preserve">1</text>
<text transform="matrix(0.20805 0.00000 0.00000 0.16765 221.92759 615.96471)" font-size="100" font-family="Liberation Serif" font-style="normal" font-weight="normal" fill="#000" stroke="#fff" stroke-width="0.6" xml:space="preserve">10</text>
<text transform="matrix(0.21000 0.00000 0.00000 0.16615 243.46000 610.00000)" font-size="100" font-family="Liberation Serif" font-style="normal" font-weight="normal" fill="#000" stroke="#fff" stroke-width="0.6" xml:space="preserve">2</text>
<text transform="matrix(0.21149 0.00000 0.00000 0.16765 331.39655 615.96471)" font-size="100" font-family="Liberation Serif" font-style="normal" font-weight="normal" fill="#000" stroke="#fff" stroke-width="0.6" xml:space="preserve">10</text>
<text transform="matrix(0.21463 0.00000 0.00000 0.17121 352.82683 609.92879)" font-size="100" font-family="Liberation Serif" font-style="normal" font-weight="normal" fill="#000" stroke="#fff" stroke-width="0.6" xml:space="preserve">3</text>
<text transform="matrix(0.00000 -0.28433 0.25652 0.00000 24.40000 542.46866)" font-size="100" font-family="Liberation Serif" font-style="normal" font-weight="normal" fill="#000" stroke="#fff" stroke-width="0.6" xml:space="preserve">Threshold</text>
<text transform="matrix(0.00000 -0.29804 0.24583 0.00000 24.65417 417.59412)" font-size="100" font-family="Liberation Serif" font-style="italic" font-weight="normal" fill="#000" stroke="#fff" stroke-width="0.6" xml:space="preserve">α</text>
<text transform="matrix(0.00000 -0.31250 0.20588 0.00000 14.34118 416.93750)" font-size="100" font-family="Liberation Serif" font-style="normal" font-weight="normal" fill="#000" stroke="#fff" stroke-width="0.6" xml:space="preserve">~</text>
<text transform="matrix(0.27451 0.00000 0.00000 0.25625 204.37647 533.64375)" font-size="100" font-family="Liberation Serif" font-style="italic" font-weight="normal" fill="#000" stroke="#fff" stroke-width="0.6" xml:space="preserve">α</text>
<text transform="matrix(0.31250 0.00000 0.00000 0.28235 204.56250 526.77647)" font-size="100" font-family="Liberation Serif" font-style="normal" font-weight="normal" fill="#000" stroke="#fff" stroke-width="0.6" xml:space="preserve">~</text>
<text transform="matrix(0.21774 0.00000 0.00000 0.18308 223.70000 538.30000)" font-size="100" font-family="Liberation Serif" font-style="italic" font-weight="normal" fill="#000" stroke="#fff" stroke-width="0.6" xml:space="preserve">F</text>
<text transform="matrix(0.29216 0.00000 0.00000 0.25625 310.92353 533.64375)" font-size="100" font-family="Liberation Serif" font-style="italic" font-weight="normal" fill="#000" stroke="#fff" stroke-width="0.6" xml:space="preserve">α</text>
<text transform="matrix(0.31250 0.00000 0.00000 0.28235 311.06250 526.77647)" font-size="100" font-family="Liberation Serif" font-style="normal" font-weight="normal" fill="#000" stroke="#fff" stroke-width="0.6" xml:space="preserve">~</text>
<text transform="matrix(0.24255 0.00000 0.00000 0.17761 329.95745 537.94478)" font-size="100" font-family="Liberation Serif" font-style="italic" font-weight="normal" fill="#000" stroke="#fff" stroke-width="0.6" xml:space="preserve">S</text>
<text transform="matrix(0.30385 0.00000 0.00000 0.35444 464.08462 377.35667)" font-size="100" font-family="Liberation Serif" font-style="normal" font-weight="normal" fill="#000" stroke="#fff" stroke-width="0.6" xml:space="preserve">(</text>
<text transform="matrix(0.35800 0.00000 0.00000 0.31286 474.46800 376.48714)" font-size="100" font-family="Liberation Serif" font-style="normal" font-weight="bold" fill="#000" stroke="#fff" stroke-width="0.6" xml:space="preserve">d</text>
<text transform="matrix(0.30000 0.00000 0.00000 0.35444 495.40000 377.35667)" font-size="100" font-family="Liberation Serif" font-style="normal" font-weight="normal" fill="#000" stroke="#fff" stroke-width="0.6" xml:space="preserve">)</text>
<text transform="matrix(0.21709 0.00000 0.00000 0.16418 388.93162 348.77164)" font-size="100" font-family="Liberation Serif" font-style="normal" font-weight="normal" fill="#000" stroke="#fff" stroke-width="0.6" xml:space="preserve">0.3</text>
<text transform="matrix(0.20714 0.00000 0.00000 0.15821 405.47143 572.68358)" font-size="100" font-family="Liberation Serif" font-style="normal" font-weight="normal" fill="#000" stroke="#fff" stroke-width="0.6" xml:space="preserve">0</text>
<text transform="matrix(0.22250 0.00000 0.00000 0.15909 475.66500 609.94091)" font-size="100" font-family="Liberation Serif" font-style="normal" font-weight="normal" fill="#000" stroke="#fff" stroke-width="0.6" xml:space="preserve">5</text>
<text transform="matrix(0.21609 0.00000 0.00000 0.15441 538.05517 609.79118)" font-size="100" font-family="Liberation Serif" font-style="normal" font-weight="normal" fill="#000" stroke="#fff" stroke-width="0.6" xml:space="preserve">10</text>
<text transform="matrix(0.21494 0.00000 0.00000 0.15672 605.36552 609.94328)" font-size="100" font-family="Liberation Serif" font-style="normal" font-weight="normal" fill="#000" stroke="#fff" stroke-width="0.6" xml:space="preserve">15</text>
<text transform="matrix(0.00000 -0.27119 0.28154 0.00000 394.90000 529.90000)" font-size="100" font-family="Liberation Serif" font-style="italic" font-weight="normal" fill="#000" stroke="#fff" stroke-width="0.6" xml:space="preserve">P</text>
<text transform="matrix(0.00000 -0.30769 0.33111 0.00000 395.44667 511.63077)" font-size="100" font-family="Liberation Serif" font-style="normal" font-weight="normal" fill="#000" stroke="#fff" stroke-width="0.6" xml:space="preserve">(</text>
<text transform="matrix(0.00000 -0.31373 0.24167 0.00000 395.15833 500.44118)" font-size="100" font-family="Liberation Serif" font-style="italic" font-weight="normal" fill="#000" stroke="#fff" stroke-width="0.6" xml:space="preserve">α</text>
<text transform="matrix(0.00000 -0.22258 0.20308 0.00000 398.40000 481.80000)" font-size="100" font-family="Liberation Serif" font-style="italic" font-weight="normal" fill="#000" stroke="#fff" stroke-width="0.6" xml:space="preserve">F</text>
<text transform="matrix(0.00000 -0.36596 0.33617 0.00000 398.86170 458.12979)" font-size="100" font-family="Liberation Serif" font-style="normal" font-weight="normal" fill="#000" stroke="#fff" stroke-width="0.6" xml:space="preserve">&lt;</text>
<text transform="matrix(0.00000 -0.30980 0.25000 0.00000 394.95000 430.42941)" font-size="100" font-family="Liberation Serif" font-style="italic" font-weight="normal" fill="#000" stroke="#fff" stroke-width="0.6" xml:space="preserve">α</text>
<text transform="matrix(0.00000 -0.29149 0.21493 0.00000 398.47015 412.59149)" font-size="100" font-family="Liberation Serif" font-style="italic" font-weight="normal" fill="#000" stroke="#fff" stroke-width="0.6" xml:space="preserve">S</text>
<text transform="matrix(0.00000 -0.29231 0.33667 0.00000 395.33000 396.67692)" font-size="100" font-family="Liberation Serif" font-style="normal" font-weight="normal" fill="#000" stroke="#fff" stroke-width="0.6" xml:space="preserve">)</text>
<text transform="matrix(0.28751 0.00000 0.00000 0.24225 281.13746 649.80000)" font-size="100" font-family="Liberation Serif" font-style="normal" font-weight="normal" fill="#000" stroke="#fff" stroke-width="0.6" xml:space="preserve">Number of populations</text>
<text transform="matrix(0.35476 0.00000 0.00000 0.27021 555.48095 650.60000)" font-size="100" font-family="Liberation Serif" font-style="italic" font-weight="normal" fill="#000" stroke="#fff" stroke-width="1.0" xml:space="preserve">n</text>
</g>
</svg>
</body></html>
